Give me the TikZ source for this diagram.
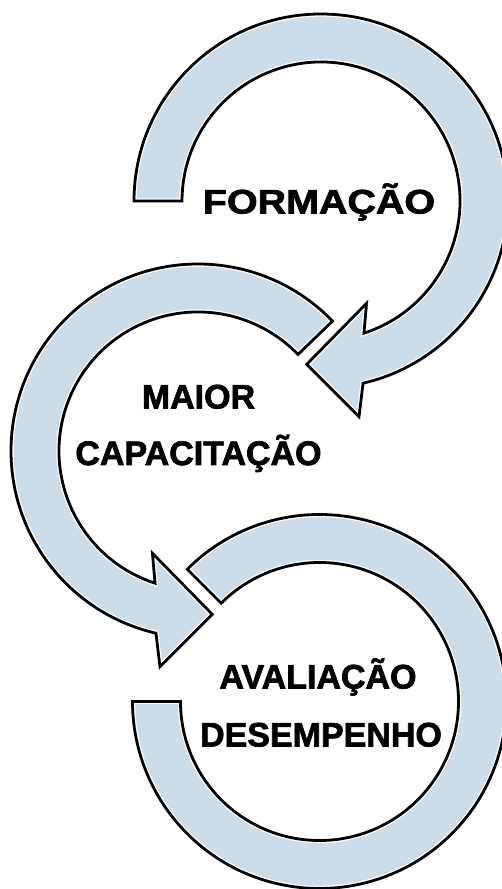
\documentclass[tikz,border=0pt]{standalone}
\usepackage{fontspec}
\usepackage{graphicx}
\usetikzlibrary{calc}
\newfontfamily\labfont{Liberation Sans}[BoldFeatures={FakeBold=2}]
\definecolor{ringblue}{RGB}{204,220,233}
\tikzset{
  ringfill/.style={fill=ringblue},
  ringedge/.style={draw=black,line width=2.8pt,line join=miter},
  label/.style={font=\labfont\bfseries\fontsize{34}{40}\selectfont,anchor=base,inner sep=0pt}
}
\newcommand{\ringshape}[1]{%
  \fill[ringfill] #1;
  \begin{scope}\clip #1; \draw[white,line width=5.4pt] #1; \end{scope}
  \draw[ringedge] #1;
}
\begin{document}
\begin{tikzpicture}[x=1pt,y=1pt]
\useasboundingbox (0,0) rectangle (502,889);
\coordinate (C1) at (321,688);
\coordinate (C2) at (198,438);
\coordinate (C3) at (319.5,187.5);
% top ring with arrowhead
\ringshape{($(C1)+(180:139)$) -- ($(C1)+(180:187)$) arc[start angle=180,end angle=-77,radius=187]
  -- ($(C1)+(-80:219)$) -- ($(C1)+(-95:164)$) -- ($(C1)+(-66:112)$) -- ($(C1)+(-72:139)$)
  arc[start angle=-72,end angle=180,radius=139] -- cycle}
% middle ring with arrowhead
\ringshape{($(C2)+(44:139)$) -- ($(C2)+(44:187)$) arc[start angle=44,end angle=257,radius=187]
  -- ($(C2)+(260:219)$) -- ($(C2)+(275:164)$) -- ($(C2)+(246:112)$) -- ($(C2)+(252:139)$)
  arc[start angle=252,end angle=44,radius=139] -- cycle}
% bottom ring
\ringshape{($(C3)+(135:139)$) -- ($(C3)+(135:187)$) arc[start angle=135,end angle=-180,radius=187]
  -- ($(C3)+(-180:139)$) arc[start angle=-180,end angle=135,radius=139] -- cycle}
% labels
\node[label] (form) at (319,675.5) {\scalebox{1.16}[1]{FORMAÇÃO}};
\node[label] (maior) at (198.5,480.5) {MAIOR};
\node[label] (capac) at (198.5,424) {CAPACITAÇÃO};
\node[label] (aval) at (318,200.5) {AVALIAÇÃO};
\node[label] (desemp) at (321,142.5) {DESEMPENHO};
\end{tikzpicture}
\end{document}
